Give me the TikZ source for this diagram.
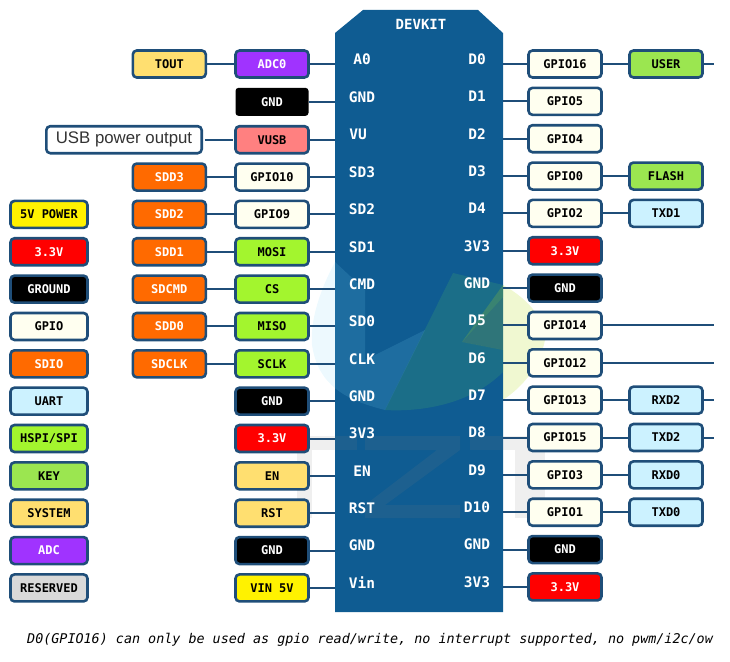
\documentclass[tikz,border=0pt]{standalone}
\usepackage{fontspec}
\setmainfont{Liberation Sans}
\setsansfont{Liberation Sans}
\setmonofont{DejaVu Sans Mono}
\usetikzlibrary{positioning}
\definecolor{edgeblue}{HTML}{1F4E79}
\definecolor{chipblue}{HTML}{0F5C92}
\definecolor{sysyellow}{HTML}{FFDF70}
\definecolor{adcpurple}{HTML}{A033FF}
\definecolor{usbred}{HTML}{FF8080}
\definecolor{gpiocream}{HTML}{FFFFF0}
\definecolor{sdorange}{HTML}{FF6A00}
\definecolor{spigreen}{HTML}{A3F52E}
\definecolor{keygreen}{HTML}{9BE650}
\definecolor{uartblue}{HTML}{CCF2FF}
\definecolor{logoteal}{HTML}{2E8B7A}
\tikzset{
  % pin label box
  pin box/.style  = {rectangle, rounded corners=4pt, draw=edgeblue, line width=2.6pt,
                     outer sep=0pt, align=center, minimum width=73pt, minimum height=27pt,
                     inner sep=1pt, text=black,
                     font=\fontsize{12}{14}\selectfont\ttfamily\bfseries},
  % same box with light text
  dark box/.style = {pin box, text=white},
  % legend column is a little wider
  key box/.style  = {minimum width=77pt},
  % ground without a border
  bare gnd/.style = {dark box, fill=black, draw=none, rounded corners=3pt, minimum width=73pt,
                     minimum height=28pt},
  % text on the board
  board text/.style = {text=white, inner sep=0pt, yshift=5pt,
                       font=\fontsize{14.5}{16}\selectfont\ttfamily\bfseries},
  left pin/.style   = {board text, xshift=27pt},
  right pin/.style  = {board text, xshift=-26pt},
  % the board
  board/.style = {rectangle, inner sep=0pt, outer sep=0pt,
                  minimum width=168pt, minimum height=602pt},
  % connectors
  wire/.style = {edgeblue, line width=2pt},
  % watermark pieces
  logo bar/.style = {gray, opacity=.13},
}
\begin{document}
\begin{tikzpicture}[x=1pt, y=-1pt, node distance=10.35pt and 29.7pt]
  \useasboundingbox (0,0) rectangle (730,661);

  % --- board ---
  \node[board] (chip) at (419,311) {};
  \fill[chipblue] (chip.south west) -- ([yshift=-23pt]chip.north west)
    -- ([xshift=28pt]chip.north west) -- ([xshift=-25pt]chip.north east)
    -- ([yshift=-23pt]chip.north east) -- (chip.south east) -- cycle;

  % --- logo on the board ---
  \fill[logoteal, opacity=.4] (453,273) -- (503,285) -- (503,297) -- (462,342) -- (503,350)
    -- (503,372) .. controls (470,405) and (420,412) .. (385,410) -- cycle;
  \fill[yellow!70!green, opacity=.2] (503,285) .. controls (530,300) and (545,320) .. (545,340)
    .. controls (540,365) and (525,385) .. (503,400) -- (503,372) -- (503,350) -- (462,342) -- cycle;
  \fill[cyan!50!white, opacity=.14] (335,262) .. controls (320,290) and (310,320) .. (312,345)
    .. controls (318,385) and (345,400) .. (385,410) -- (425,330) -- (365,360) -- (365,290) -- cycle;
  \fill[logo bar] (253,436) -- (357,436) -- (357,450) -- (253,450) -- cycle;
  \fill[logo bar] (297,450) -- (312,450) -- (312,518) -- (297,518) -- cycle;
  \fill[logo bar] (365,436) -- (460,436) -- (460,450) -- (385,505) -- (460,505) -- (460,518) -- (365,518)
    -- (365,505) -- (437,450) -- (365,450) -- cycle;
  \fill[logo bar] (470,436) -- (590,436) -- (590,450) -- (470,450) -- cycle;
  \fill[logo bar] (515,450) -- (545,450) -- (545,518) -- (515,518) -- cycle;

  % --- pins, left column next to the board ---
  \node[pin box, dark box, fill=adcpurple] (adc0) at (272,64) {ADC0};
  \node[bare gnd, below=of adc0] (gndL1) {GND};
  \node[pin box, fill=usbred, below=of gndL1] (vusb) {VUSB};
  \node[pin box, fill=gpiocream, below=of vusb] (gpio10) {GPIO10};
  \node[pin box, fill=gpiocream, below=of gpio10] (gpio9) {GPIO9};
  \node[pin box, fill=spigreen, below=of gpio9] (mosi) {MOSI};
  \node[pin box, fill=spigreen, below=of mosi] (cs) {CS};
  \node[pin box, fill=spigreen, below=of cs] (miso) {MISO};
  \node[pin box, fill=spigreen, below=of miso] (sclk) {SCLK};
  \node[dark box, fill=black, below=of sclk] (gndL2) {GND};
  \node[dark box, fill=red, below=of gndL2] (vccL) {3.3V};
  \node[pin box, fill=sysyellow, below=of vccL] (en) {EN};
  \node[pin box, fill=sysyellow, below=of en] (rst) {RST};
  \node[dark box, fill=black, below=of rst] (gndL3) {GND};
  \node[pin box, fill=yellow, below=of gndL3] (vin) {VIN 5V};

  % --- second column, left ---
  \node[pin box, fill=sysyellow, left=of adc0] (tout) {TOUT};
  \node[pin box, fill=white, minimum width=155.4pt, left=33.8pt of vusb,
        font=\fontsize{16.8}{18}\selectfont\sffamily, text=black!80] (usbout) {USB power output};
  \node[dark box, fill=sdorange, left=of gpio10] (sdd3) {SDD3};
  \node[dark box, fill=sdorange, left=of gpio9] (sdd2) {SDD2};
  \node[dark box, fill=sdorange, left=of mosi] (sdd1) {SDD1};
  \node[dark box, fill=sdorange, left=of cs] (sdcmd) {SDCMD};
  \node[dark box, fill=sdorange, left=of miso] (sdd0) {SDD0};
  \node[dark box, fill=sdorange, left=of sclk] (sdclk) {SDCLK};

  % --- legend ---
  \node[pin box, key box, fill=yellow, left=45.3pt of sdd2] (key5v) {5V POWER};
  \node[dark box, key box, fill=red, below=of key5v] (key33) {3.3V};
  \node[dark box, key box, fill=black, below=of key33] (keygnd) {GROUND};
  \node[pin box, key box, fill=gpiocream, below=of keygnd] (keygpio) {GPIO};
  \node[dark box, key box, fill=sdorange, below=of keygpio] (keysdio) {SDIO};
  \node[pin box, key box, fill=uartblue, below=of keysdio] (keyuart) {UART};
  \node[pin box, key box, fill=spigreen, below=of keyuart] (keyspi) {HSPI/SPI};
  \node[pin box, key box, fill=keygreen, below=of keyspi] (keykey) {KEY};
  \node[pin box, key box, fill=sysyellow, below=of keykey] (keysys) {SYSTEM};
  \node[dark box, key box, fill=adcpurple, below=of keysys] (keyadc) {ADC};
  \node[pin box, key box, fill=black!15, below=of keyadc] (keyres) {RESERVED};

  % --- pins, right column next to the board ---
  \node[pin box, fill=gpiocream] (gpio16) at (565,64) {GPIO16};
  \node[pin box, fill=gpiocream, below=of gpio16] (gpio5) {GPIO5};
  \node[pin box, fill=gpiocream, below=of gpio5] (gpio4) {GPIO4};
  \node[pin box, fill=gpiocream, below=of gpio4] (gpio0) {GPIO0};
  \node[pin box, fill=gpiocream, below=of gpio0] (gpio2) {GPIO2};
  \node[dark box, fill=red, below=of gpio2] (vccR1) {3.3V};
  \node[dark box, fill=black, below=of vccR1] (gndR1) {GND};
  \node[pin box, fill=gpiocream, below=of gndR1] (gpio14) {GPIO14};
  \node[pin box, fill=gpiocream, below=of gpio14] (gpio12) {GPIO12};
  \node[pin box, fill=gpiocream, below=of gpio12] (gpio13) {GPIO13};
  \node[pin box, fill=gpiocream, below=of gpio13] (gpio15) {GPIO15};
  \node[pin box, fill=gpiocream, below=of gpio15] (gpio3) {GPIO3};
  \node[pin box, fill=gpiocream, below=of gpio3] (gpio1) {GPIO1};
  \node[dark box, fill=black, below=of gpio1] (gndR2) {GND};
  \node[dark box, fill=red, below=of gndR2] (vccR2) {3.3V};

  % --- outer column, right ---
  \node[pin box, fill=keygreen, right=28pt of gpio16] (user) {USER};
  \node[pin box, fill=keygreen, right=28pt of gpio0] (flash) {FLASH};
  \node[pin box, fill=uartblue, right=28pt of gpio2] (txd1) {TXD1};
  \node[pin box, fill=uartblue, right=28pt of gpio13] (rxd2) {RXD2};
  \node[pin box, fill=uartblue, right=28pt of gpio15] (txd2) {TXD2};
  \node[pin box, fill=uartblue, right=28pt of gpio3] (rxd0) {RXD0};
  \node[pin box, fill=uartblue, right=28pt of gpio1] (txd0) {TXD0};

  % free end of the stubs on the right
  \coordinate (rim) at (713.5,0);

  % --- text on the board ---
  \node[text=white, inner sep=0pt, font=\fontsize{14}{16}\selectfont\ttfamily\bfseries] (devkit) at (421,24) {DEVKIT};
  \node[left pin] (pinA0) at (adc0 -| chip.west) {A0};
  \node[left pin] (pinGND1) at (gndL1 -| chip.west) {GND};
  \node[left pin, xshift=-4pt] (pinVU) at (vusb -| chip.west) {VU};
  \node[left pin] (pinSD3) at (gpio10 -| chip.west) {SD3};
  \node[left pin] (pinSD2) at (gpio9 -| chip.west) {SD2};
  \node[left pin] (pinSD1) at (mosi -| chip.west) {SD1};
  \node[left pin] (pinCMD) at (cs -| chip.west) {CMD};
  \node[left pin] (pinSD0) at (miso -| chip.west) {SD0};
  \node[left pin] (pinCLK) at (sclk -| chip.west) {CLK};
  \node[left pin] (pinGND2) at (gndL2 -| chip.west) {GND};
  \node[left pin] (pin3V3L) at (vccL -| chip.west) {3V3};
  \node[left pin] (pinEN) at (en -| chip.west) {EN};
  \node[left pin] (pinRST) at (rst -| chip.west) {RST};
  \node[left pin] (pinGND3) at (gndL3 -| chip.west) {GND};
  \node[left pin] (pinVin) at (vin -| chip.west) {Vin};

  \node[right pin] (pinD0) at (gpio16 -| chip.east) {D0};
  \node[right pin] (pinD1) at (gpio5 -| chip.east) {D1};
  \node[right pin] (pinD2) at (gpio4 -| chip.east) {D2};
  \node[right pin] (pinD3) at (gpio0 -| chip.east) {D3};
  \node[right pin] (pinD4) at (gpio2 -| chip.east) {D4};
  \node[right pin] (pin3V3R1) at (vccR1 -| chip.east) {3V3};
  \node[right pin] (pinGND4) at (gndR1 -| chip.east) {GND};
  \node[right pin] (pinD5) at (gpio14 -| chip.east) {D5};
  \node[right pin] (pinD6) at (gpio12 -| chip.east) {D6};
  \node[right pin] (pinD7) at (gpio13 -| chip.east) {D7};
  \node[right pin] (pinD8) at (gpio15 -| chip.east) {D8};
  \node[right pin] (pinD9) at (gpio3 -| chip.east) {D9};
  \node[right pin] (pinD10) at (gpio1 -| chip.east) {D10};
  \node[right pin] (pinGND5) at (gndR2 -| chip.east) {GND};
  \node[right pin] (pin3V3R2) at (vccR2 -| chip.east) {3V3};

  % --- connectors: left side ---
  \draw[wire] (adc0) -- (adc0 -| chip.west);
  \draw[wire] (gndL1) -- (gndL1 -| chip.west);
  \draw[wire] (vusb) -- (vusb -| chip.west);
  \draw[wire] (gpio10) -- (gpio10 -| chip.west);
  \draw[wire] (gpio9) -- (gpio9 -| chip.west);
  \draw[wire] (mosi) -- (mosi -| chip.west);
  \draw[wire] (cs) -- (cs -| chip.west);
  \draw[wire] (miso) -- (miso -| chip.west);
  \draw[wire] (sclk) -- (sclk -| chip.west);
  \draw[wire] (gndL2) -- (gndL2 -| chip.west);
  \draw[wire] (vccL) -- (vccL -| chip.west);
  \draw[wire] (en) -- (en -| chip.west);
  \draw[wire] (rst) -- (rst -| chip.west);
  \draw[wire] (gndL3) -- (gndL3 -| chip.west);
  \draw[wire] (vin) -- (vin -| chip.west);

  \draw[wire] (tout) -- (adc0);
  \draw[wire, shorten <=3pt, shorten >=3pt] (usbout) -- (vusb);
  \draw[wire] (sdd3) -- (gpio10);
  \draw[wire] (sdd2) -- (gpio9);
  \draw[wire] (sdd1) -- (mosi);
  \draw[wire] (sdcmd) -- (cs);
  \draw[wire] (sdd0) -- (miso);
  \draw[wire] (sdclk) -- (sclk);

  % --- connectors: right side ---
  \draw[wire] (gpio16) -- (gpio16 -| chip.east);
  \draw[wire] (gpio5) -- (gpio5 -| chip.east);
  \draw[wire] (gpio4) -- (gpio4 -| chip.east);
  \draw[wire] (gpio0) -- (gpio0 -| chip.east);
  \draw[wire] (gpio2) -- (gpio2 -| chip.east);
  \draw[wire] (vccR1) -- (vccR1 -| chip.east);
  \draw[wire] (gndR1) -- (gndR1 -| chip.east);
  \draw[wire] (gpio14) -- (gpio14 -| chip.east);
  \draw[wire] (gpio12) -- (gpio12 -| chip.east);
  \draw[wire] (gpio13) -- (gpio13 -| chip.east);
  \draw[wire] (gpio15) -- (gpio15 -| chip.east);
  \draw[wire] (gpio3) -- (gpio3 -| chip.east);
  \draw[wire] (gpio1) -- (gpio1 -| chip.east);
  \draw[wire] (gndR2) -- (gndR2 -| chip.east);
  \draw[wire] (vccR2) -- (vccR2 -| chip.east);

  \draw[wire] (gpio16) -- (user);
  \draw[wire] (gpio0) -- (flash);
  \draw[wire] (gpio2) -- (txd1);
  \draw[wire] (gpio13) -- (rxd2);
  \draw[wire] (gpio15) -- (txd2);
  \draw[wire] (gpio3) -- (rxd0);
  \draw[wire] (gpio1) -- (txd0);

  \draw[wire] (user) -- (user -| rim);
  \draw[wire] (gpio14) -- (gpio14 -| rim);
  \draw[wire] (gpio12) -- (gpio12 -| rim);
  \draw[wire] (rxd2) -- (rxd2 -| rim);
  \draw[wire] (txd2) -- (txd2 -| rim);

  % --- note ---
  \node[anchor=west, inner sep=0pt, font=\fontsize{13.4}{15}\selectfont\ttfamily\itshape] (note) at (27,640)
       {D0(GPIO16) can only be used as gpio read/write, no interrupt supported, no pwm/i2c/ow};

\end{tikzpicture}
\end{document}
